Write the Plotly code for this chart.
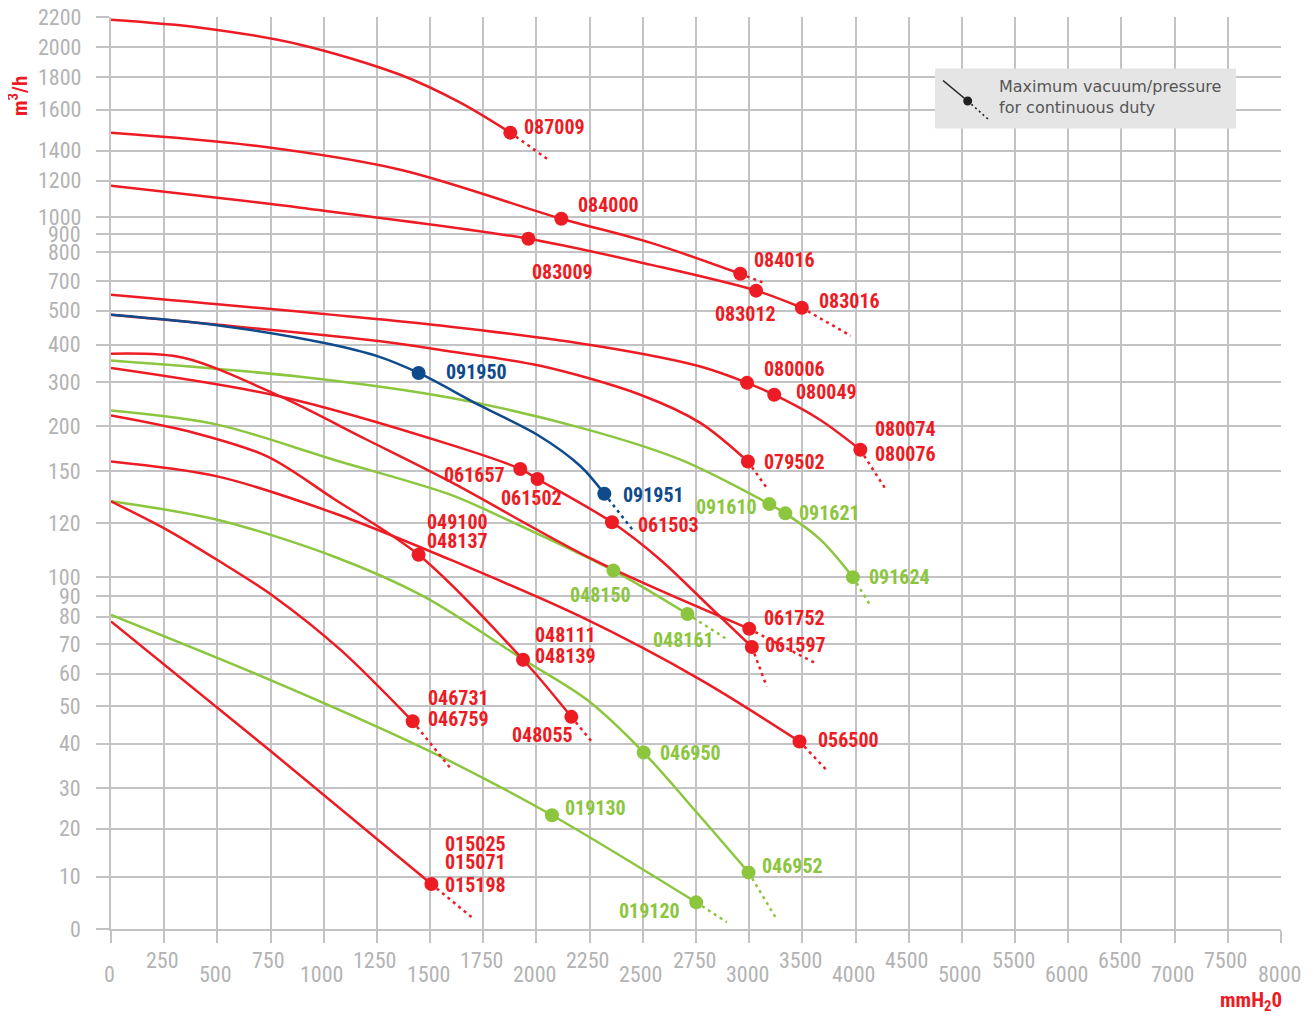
import numpy as np
import plotly.graph_objects as go

# ---------------- axis tick values (irregular printed scales) ----------------
X_TICKS = [0, 250, 500, 750, 1000, 1250, 1500, 1750, 2000, 2250, 2500, 2750, 3000,
           3500, 4000, 4500, 5000, 5500, 6000, 6500, 7000, 7500, 8000]
Y_TICKS = [0, 10, 20, 30, 40, 50, 60, 70, 80, 90, 100, 120, 150, 200, 300, 400, 500,
           700, 800, 900, 1000, 1200, 1400, 1600, 1800, 2000, 2200]

# ---------------- curve data: pressure (mmH2O) / flow (m3/h) ----------------
c087009_p = [0, 421, 890, 1360, 1642, 1877]
c087009_q = [2182, 2130, 2018, 1815, 1643, 1488]
c087009_ext_p = [1877, 2056]
c087009_ext_q = [1488, 1340]

c084016_p = [0, 656, 1360, 2117, 2535, 2958]
c084016_q = [1488, 1427, 1273, 990, 852, 726]
c084016_ext_p = [2958, 3125]
c084016_ext_q = [726, 693]

c083016_p = [0, 890, 1962, 2535, 3065, 3495]
c083016_q = [1172, 1051, 874, 757, 637, 520]
c083016_ext_p = [3495, 3955]
c083016_ext_q = [520, 426]

c080074_p = [0, 1595, 2300, 2770, 2990, 3235, 3665, 4045]
c080074_q = [609, 453, 395, 342, 299, 272, 215, 174]
c080074_ext_p = [4045, 4290]
c080074_ext_q = [174, 139]

c079502_p = [0, 1267, 1595, 2018, 2488, 2770, 2994]
c079502_q = [488, 410, 382, 344, 272, 208, 161]
c079502_ext_p = [2994, 3170]
c079502_ext_q = [161, 140]

c091951_p = [0, 515, 1003, 1255, 1446, 1736, 2002, 2206, 2319]
c091951_q = [488, 456, 405, 369, 325, 247, 191, 156, 137]
c091951_ext_p = [2319, 2452]
c091951_ext_q = [137, 117.5]

c091624_p = [0, 890, 1595, 2206, 2677, 3190, 3340, 3670, 3975]
c091624_q = [358, 315, 265, 198.6, 163, 131, 125.6, 113.9, 100.1]
c091624_ext_p = [3975, 4130]
c091624_ext_q = [100.1, 86.3]

c061597_p = [0, 796, 1595, 1924, 2005, 2355, 2582, 2817, 3025]
c061597_q = [338, 268, 179.7, 152.7, 145.6, 120.4, 106.5, 84.7, 69]
c061597_ext_p = [3025, 3165]
c061597_ext_q = [69, 56.1]

c061752_p = [0, 340, 796, 1196, 1595, 2267, 3000]
c061752_q = [376, 365.5, 268, 186, 144, 106.5, 75.6]
c061752_ext_p = [3000, 3630]
c061752_ext_q = [75.6, 63.4]

c048161_p = [0, 499, 1047, 1595, 1861, 2362, 2710]
c048161_q = [236, 204, 163, 136.5, 122, 102.5, 81.4]
c048161_ext_p = [2710, 2898]
c048161_ext_q = [81.4, 71.6]

c048055_p = [0, 373, 734, 1047, 1446, 1937, 2164]
c048055_q = [225, 194, 166.7, 134.1, 108.3, 64.7, 47.2]
c048055_ext_p = [2164, 2268]
c048055_ext_q = [47.2, 40]

c056500_p = [0, 499, 1047, 1595, 2206, 2770, 3473]
c056500_q = [161, 147.1, 125.8, 106.5, 80.2, 58.2, 40.6]
c056500_ext_p = [3473, 3730]
c056500_ext_q = [40.6, 34]

c046952_p = [0, 499, 1047, 1470, 1940, 2238, 2504, 2770, 2997]
c046952_q = [132.6, 121.9, 107.7, 90, 64.7, 52, 38, 23, 10.9]
c046952_ext_p = [2997, 3260]
c046952_ext_q = [10.9, 1.8]

c019120_p = [0, 656, 1265, 1563, 2073, 2751]
c019120_q = [81, 60.7, 44.2, 36.8, 23.3, 5.1]
c019120_ext_p = [2751, 2895]
c019120_ext_q = [5.1, 1.3]

c015198_p = [0, 749, 1506]
c015198_q = [78.3, 38.4, 8.6]
c015198_ext_p = [1506, 1709]
c015198_ext_q = [8.6, 1.8]

c046759_p = [0, 263, 498, 765, 1078, 1418]
c046759_q = [132.6, 117.5, 106.5, 90, 68.1, 46]
c046759_ext_p = [1418, 1595]
c046759_ext_q = [46, 34.5]

# ---------------- marked points (max vacuum/pressure) ----------------
dot_name = ["087009", "084000", "084016", "083009", "083012", "083016", "080006", "080049",
            "080074", "079502", "091950", "091951", "061657", "061502", "061503", "061752",
            "061597", "048137", "048139", "048055", "046759", "015198", "056500", "091610",
            "091621", "091624", "048150", "048161", "046950", "046952", "019130", "019120"]
dot_p = [1877, 2117, 2958, 1962, 3065, 3495, 2990, 3235,
         4045, 2994, 1446, 2319, 1924, 2005, 2355, 3000,
         3025, 1446, 1937, 2164, 1418, 1506, 3473, 3190,
         3340, 3975, 2362, 2710, 2504, 2997, 2073, 2751]
dot_q = [1488, 990, 726, 874, 637, 520, 299, 272,
         174, 161, 325, 137, 152.7, 145.6, 120.4, 75.6,
         69, 108.3, 64.7, 47.2, 46, 8.6, 40.6, 131,
         125.6, 100.1, 102.5, 81.4, 38, 10.9, 23.3, 5.1]

# label texts and the point each belongs to
label_text = ["087009", "084000", "084016", "083009", "083012", "083016", "080006", "080049",
              "080074", "080076", "079502", "091950", "091951", "061657", "061502", "061503",
              "049100", "048137", "061752", "061597", "048111", "048139", "048055",
              "046731", "046759", "056500", "015025", "015071", "015198",
              "091610", "091621", "091624", "048150", "048161", "046950", "046952",
              "019130", "019120"]
label_dot = ["087009", "084000", "084016", "083009", "083012", "083016", "080006", "080049",
             "080074", "080074", "079502", "091950", "091951", "061657", "061502", "061503",
             "048137", "048137", "061752", "061597", "048139", "048139", "048055",
             "046759", "046759", "056500", "015198", "015198", "015198",
             "091610", "091621", "091624", "048150", "048161", "046950", "046952",
             "019130", "019120"]

# ---------------- styling ----------------
RED = "#ED1C24"
GREEN = "#8CC63F"
BLUE = "#0E4A8C"
GRID = "#c3c3c5"
TICKTXT = "#b3b3b3"
LABEL_FONT = "Liberation Sans Narrow, Arial Narrow, Roboto Condensed, DejaVu Sans Condensed, sans-serif"

# positions of the printed y ticks inside the plot (px above the 0 line)
Y_TICK_HEIGHT = [0, 52.3, 100.3, 141, 185.3, 222.6, 255.3, 285, 312.1, 332.6, 351.6, 406,
                 457.6, 502.6, 546.6, 584.3, 618.3, 647.6, 677, 695, 712, 748.3, 778.3,
                 819.3, 852, 881.6, 912]

def xs(p):
    return np.interp(p, X_TICKS, np.arange(len(X_TICKS)))

def ys(q):
    return np.interp(q, Y_TICKS, Y_TICK_HEIGHT)

curves = [
    (c087009_p, c087009_q, c087009_ext_p, c087009_ext_q, RED),
    (c084016_p, c084016_q, c084016_ext_p, c084016_ext_q, RED),
    (c083016_p, c083016_q, c083016_ext_p, c083016_ext_q, RED),
    (c080074_p, c080074_q, c080074_ext_p, c080074_ext_q, RED),
    (c079502_p, c079502_q, c079502_ext_p, c079502_ext_q, RED),
    (c091624_p, c091624_q, c091624_ext_p, c091624_ext_q, GREEN),
    (c048161_p, c048161_q, c048161_ext_p, c048161_ext_q, GREEN),
    (c046952_p, c046952_q, c046952_ext_p, c046952_ext_q, GREEN),
    (c019120_p, c019120_q, c019120_ext_p, c019120_ext_q, GREEN),
    (c061597_p, c061597_q, c061597_ext_p, c061597_ext_q, RED),
    (c061752_p, c061752_q, c061752_ext_p, c061752_ext_q, RED),
    (c048055_p, c048055_q, c048055_ext_p, c048055_ext_q, RED),
    (c056500_p, c056500_q, c056500_ext_p, c056500_ext_q, RED),
    (c015198_p, c015198_q, c015198_ext_p, c015198_ext_q, RED),
    (c046759_p, c046759_q, c046759_ext_p, c046759_ext_q, RED),
    (c091951_p, c091951_q, c091951_ext_p, c091951_ext_q, BLUE),
]

dot_color = {n: RED for n in dot_name}
for n in ["091950", "091951"]:
    dot_color[n] = BLUE
for n in ["091610", "091621", "091624", "048150", "048161", "046950", "046952", "019130", "019120"]:
    dot_color[n] = GREEN

# label offsets (px) relative to the point: dx, dy(up), anchor
label_style = {
    "087009": (12, 6, "left"), "084000": (15, 14, "left"), "084016": (12, 14, "left"),
    "083009": (2, -33, "left"), "083012": (-43, -23, "left"), "083016": (15, 7, "left"),
    "080006": (15, 14, "left"), "080049": (20, 3, "left"), "080074": (13, 21, "left"),
    "080076": (13, -4, "left"), "079502": (14, 0, "left"), "091950": (25, 1, "left"),
    "091951": (17, -1, "left"), "061657": (-13, -6, "right"), "061502": (-39, -19, "left"),
    "061503": (24, -3, "left"), "049100": (6, 33, "left"), "048137": (6, 14, "left"),
    "061752": (13, 11, "left"), "061597": (11, 2, "left"), "048111": (10, 25, "left"),
    "048139": (10, 4, "left"), "048055": (-61, -18, "left"), "046731": (13, 23, "left"),
    "046759": (13, 2, "left"), "056500": (17, 1, "left"), "015025": (12, 40, "left"),
    "015071": (12, 22, "left"), "015198": (12, -1, "left"), "091610": (-10, -3, "right"),
    "091621": (12, 0, "left"), "091624": (14, 0, "left"), "048150": (-45, -24, "left"),
    "048161": (-36, -26, "left"), "046950": (14, 0, "left"), "046952": (11, 6, "left"),
    "019130": (11, 7, "left"), "019120": (-14, -9, "right"),
}

fig = go.Figure()

for p, q, ep, eq, col in curves:
    fig.add_trace(go.Scatter(x=xs(p), y=ys(q), mode="lines",
                             line=dict(color=col, width=2.5, shape="spline", smoothing=0.9),
                             hoverinfo="skip", showlegend=False))
    fig.add_trace(go.Scatter(x=xs(ep), y=ys(eq), mode="lines",
                             line=dict(color=col, width=2.5, dash="3px,4px"),
                             hoverinfo="skip", showlegend=False))

fig.add_trace(go.Scatter(x=xs(dot_p), y=ys(dot_q), mode="markers",
                         marker=dict(size=14, color=[dot_color[n] for n in dot_name], line=dict(width=0)),
                         text=dot_name, hoverinfo="text", showlegend=False))

# ---------------- page geometry (screen px; the page body adds an 8px offset) ----------------
OFF = 8
X0, X1, Y0, Y1 = 111, 1281, 17, 929          # plot area on screen
W, H = 1316 - OFF, 1016 - OFF
L, T = X0 - OFF, Y0 - OFF
R, B = W - (X1 - OFF), H - (Y1 - OFF)
PW, PH = X1 - X0, Y1 - Y0

def px_x(px):
    return (px - X0) / PW

def px_y(py):
    return (Y1 - py) / PH

annotations = []
dot_index = {n: i for i, n in enumerate(dot_name)}
for txt, dn in zip(label_text, label_dot):
    i = dot_index[dn]
    dx, dy, anc = label_style[txt]
    annotations.append(dict(x=xs(dot_p[i]), y=ys(dot_q[i]), xref="x", yref="y",
                            text="<b>" + txt + "</b>", showarrow=False,
                            xanchor=anc, yanchor="middle", xshift=dx, yshift=dy,
                            font=dict(family=LABEL_FONT, size=20, color=dot_color[dn])))

# y tick labels
for v in Y_TICKS:
    annotations.append(dict(x=0, xref="paper", y=ys(v), yref="y", text=str(v),
                            showarrow=False, xanchor="right", yanchor="middle", xshift=-28,
                            font=dict(family=LABEL_FONT, size=22, color=TICKTXT)))
# x tick labels (staggered)
for i, v in enumerate(X_TICKS):
    annotations.append(dict(x=i, xref="x", y=0, yref="paper", text=str(v),
                            showarrow=False, xanchor="center", yanchor="middle",
                            xshift=-2, yshift=(-31.7 if i % 2 else -45.7),
                            font=dict(family=LABEL_FONT, size=22, color=TICKTXT)))

# axis titles
annotations.append(dict(x=px_x(18), y=px_y(96), xref="paper", yref="paper",
                        text="<b>m<sup>3</sup>/h</b>",
                        showarrow=False, textangle=-90, xanchor="center", yanchor="middle",
                        font=dict(family=LABEL_FONT, size=21, color=RED)))
annotations.append(dict(x=px_x(1251), y=px_y(1001), xref="paper", yref="paper",
                        text="<b>mmH<sub>2</sub>0</b>",
                        showarrow=False, xanchor="center", yanchor="middle",
                        font=dict(family=LABEL_FONT, size=21, color=RED)))

# legend box
shapes = [
    dict(type="rect", xref="paper", yref="paper", x0=px_x(935), x1=px_x(1236),
         y0=px_y(128.5), y1=px_y(68.5), fillcolor="#e5e5e6", line=dict(width=0), layer="above"),
    dict(type="line", xref="paper", yref="paper", x0=px_x(943), y0=px_y(80.5),
         x1=px_x(967.7), y1=px_y(101), line=dict(color="#222222", width=1.6), layer="above"),
    dict(type="line", xref="paper", yref="paper", x0=px_x(967.7), y0=px_y(101),
         x1=px_x(988.5), y1=px_y(119.5), line=dict(color="#222222", width=1.6, dash="2px,3px"),
         layer="above"),
    dict(type="circle", xref="paper", yref="paper", x0=px_x(963.2), x1=px_x(972.2),
         y0=px_y(105.5), y1=px_y(96.5), fillcolor="#222222", line=dict(width=0), layer="above"),
]
annotations.append(dict(x=px_x(997), y=px_y(97), xref="paper", yref="paper",
                        text="Maximum vacuum/pressure<br>for continuous duty", align="left",
                        showarrow=False, xanchor="left", yanchor="middle",
                        font=dict(family="DejaVu Sans, Open Sans, sans-serif", size=16, color="#555555")))

fig.update_layout(
    width=W, height=H,
    margin=dict(l=L, r=R, t=T, b=B, pad=0),
    paper_bgcolor="white", plot_bgcolor="white",
    xaxis=dict(range=[0, len(X_TICKS) - 1], tickvals=list(range(len(X_TICKS))),
               showticklabels=False, showgrid=True, gridcolor=GRID, gridwidth=1.5,
               ticks="outside", ticklen=12, tickcolor=GRID, tickwidth=1.5,
               zeroline=False, showline=True, linecolor=GRID, linewidth=1.5),
    yaxis=dict(range=[0, Y_TICK_HEIGHT[-1]], tickvals=Y_TICK_HEIGHT,
               showticklabels=False, showgrid=True, gridcolor=GRID, gridwidth=1.5,
               ticks="outside", ticklen=13, tickcolor=GRID, tickwidth=1.5,
               zeroline=False, showline=True, linecolor=GRID, linewidth=1.5),
    annotations=annotations,
    shapes=shapes,
    showlegend=False,
)

fig.write_html("out.html")
